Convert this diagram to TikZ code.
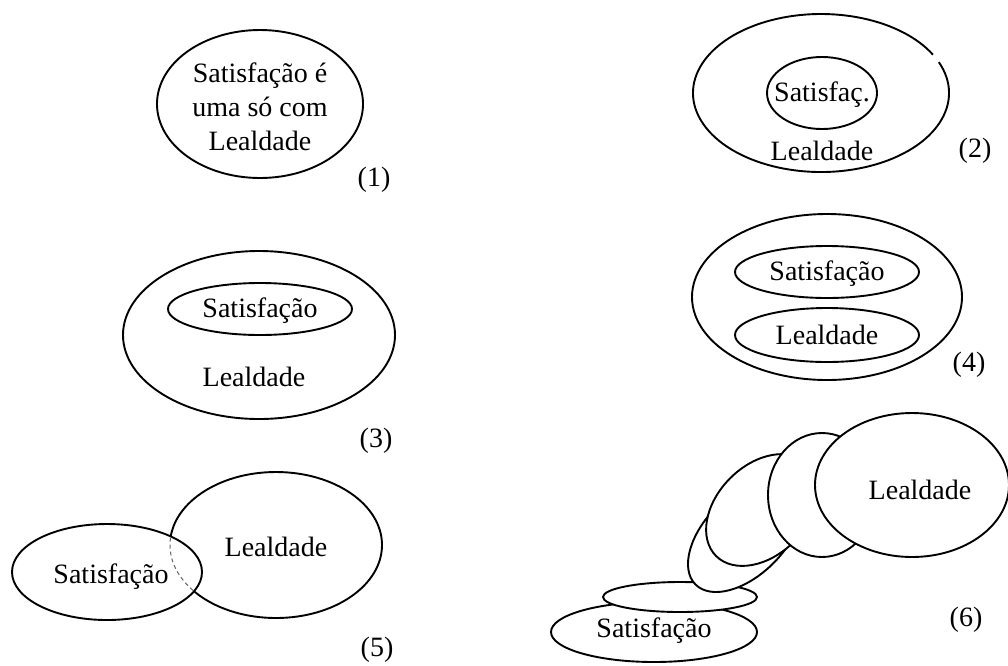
\documentclass[tikz,border=0pt]{standalone}
\usepackage{fontspec}
\setmainfont{Liberation Serif}
\begin{document}
\begin{tikzpicture}[x=1pt,y=-1pt,
  line width=1.9pt,
  lbl/.style={font=\fontsize{28}{34}\selectfont, inner sep=0pt, align=center},
  hidden/.style={line width=1pt, black!60, dash pattern=on 4pt off 3pt},
  front/.style={fill=white, draw=black}]
\useasboundingbox (0,0) rectangle (1008,665);

% (1) one single construct
\draw (260,104) ellipse [x radius=103, y radius=74];
\node[lbl] (t1) at (260,107) {Satisfação é\\uma só com\\Lealdade};
\node[lbl] (n1) at (374,180) {(1)};

% (2) satisfaction inside loyalty
\draw (821,93) ++(-23:128 and 79)
  arc [start angle=-23, end angle=331, x radius=128, y radius=79];
\draw (822,93) ellipse [x radius=55, y radius=36];
\node[lbl] (t2a) at (822,95) {Satisfaç.};
\node[lbl] (t2b) at (822,151) {Lealdade};
\node[lbl] (n2) at (975,151) {(2)};

% (3) satisfaction as a component of loyalty
\draw (259,335) ellipse [x radius=136, y radius=84];
\draw (260,309) ellipse [x radius=92, y radius=26];
\node[lbl] (t3a) at (260,311) {Satisfação};
\node[lbl] (t3b) at (254,377) {Lealdade};
\node[lbl] (n3) at (376,441) {(3)};

% (4) both inside a common whole
\draw (827,297) ellipse [x radius=135, y radius=83];
\draw (827,272) ellipse [x radius=92, y radius=26];
\draw (827,335) ellipse [x radius=92, y radius=27];
\node[lbl] (t4a) at (827,274) {Satisfação};
\node[lbl] (t4b) at (827,335) {Lealdade};
\node[lbl] (n4) at (969,365) {(4)};

% (5) overlapping constructs
\draw (276,545) ellipse [x radius=106, y radius=73];
\filldraw[front] (107,572) ellipse [x radius=95, y radius=48];
\begin{scope}
  \clip (107,572) ellipse [x radius=95, y radius=48];
  \draw[hidden] (276,545) ellipse [x radius=106, y radius=73];
\end{scope}
\node[lbl] (t5a) at (111,577) {Satisfação};
\node[lbl] (t5b) at (276,547) {Lealdade};
\node[lbl] (n5) at (377,650) {(5)};

% (6) satisfaction growing into loyalty
\filldraw[front] (654,632) ellipse [x radius=103, y radius=30];
\filldraw[front] (680,597) ellipse [x radius=77, y radius=15];
\filldraw[front, shift={(745,535)}, rotate=45] (0,0) ellipse [x radius=70, y radius=40];
\filldraw[front, shift={(762,510)}, rotate=45] (0,0) ellipse [x radius=65, y radius=45];
\filldraw[front] (822,495) ellipse [x radius=54, y radius=62];
\filldraw[front] (912,485) ellipse [x radius=97, y radius=72];
\node[lbl] (t6a) at (654,631) {Satisfação};
\node[lbl] (t6b) at (920,490) {Lealdade};
\node[lbl] (n6) at (966,620) {(6)};
\end{tikzpicture}
\end{document}
